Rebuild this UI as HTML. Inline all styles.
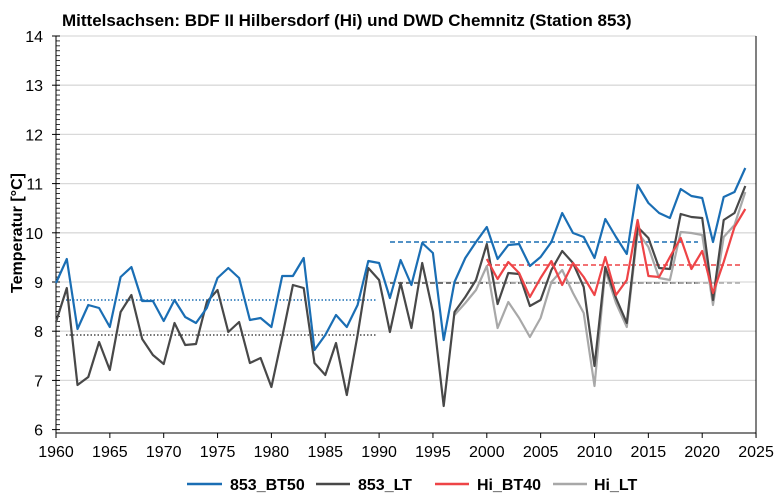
<!DOCTYPE html>
<html><head><meta charset="utf-8"><style>
body{margin:0;background:#fff;}
svg{display:block;font-family:"Liberation Sans",Arial,sans-serif;}
</style></head><body>
<svg id="s" width="780" height="504" viewBox="0 0 780 504" xmlns="http://www.w3.org/2000/svg">
<rect width="780" height="504" fill="#fff"/>
<text x="62" y="26" font-size="17" font-weight="bold" fill="#000">Mittelsachsen: BDF II Hilbersdorf (Hi) und DWD Chemnitz (Station 853)</text>
<text transform="translate(22,233) rotate(-90)" font-size="16" font-weight="bold" text-anchor="middle">Temperatur [°C]</text>
<g id="g"></g>
<g font-size="16" font-weight="bold">
<line x1="187" y1="484" x2="222" y2="484" stroke="#1a6eb4" stroke-width="2.5"/><text x="230" y="490">853_BT50</text>
<line x1="316" y1="484" x2="350" y2="484" stroke="#484848" stroke-width="2.5"/><text x="358" y="490">853_LT</text>
<line x1="435" y1="484" x2="469" y2="484" stroke="#ee4447" stroke-width="2.5"/><text x="477" y="490">Hi_BT40</text>
<line x1="553" y1="484" x2="587" y2="484" stroke="#a8a8a8" stroke-width="2.5"/><text x="594" y="490">Hi_LT</text>
</g>
</svg>
<script>
var g=document.getElementById('g'),h='';
function X(yr){return 56+(yr-1960)*10.77;}
function Y(v){return 282-(v-9)*49.2;}
for(var v=6;v<=14;v++){var y=Y(v);
 if(v>6)h+='<line x1="56" x2="756" y1="'+y+'" y2="'+y+'" stroke="#d9d9d9" stroke-width="1.3"/>';
 h+='<text x="43" y="'+(y+6)+'" font-size="16" text-anchor="end">'+v+'</text>';
 for(var k=1;k<10&&v<14;k++){var yy=y-k*4.92;h+='<line x1="56" x2="60" y1="'+yy+'" y2="'+yy+'" stroke="#000" stroke-width="0.8"/>';}
 h+='<line x1="52" x2="60" y1="'+y+'" y2="'+y+'" stroke="#000"/>';}
h+='<line x1="56" y1="36" x2="56" y2="433" stroke="#000"/><line x1="56" y1="433" x2="756" y2="433" stroke="#000"/><line x1="756" y1="36" x2="756" y2="437" stroke="#000"/>';
for(var yr=1960;yr<=2025;yr+=5){var x=X(yr);h+='<line x1="'+x+'" x2="'+x+'" y1="433" y2="438" stroke="#000"/><text x="'+x+'" y="457" font-size="16" text-anchor="middle">'+yr+'</text>';}
function dl(x1,x2,y,c,d){h+='<line x1="'+x1+'" x2="'+x2+'" y1="'+y+'" y2="'+y+'" stroke="'+c+'" stroke-width="1.6" stroke-dasharray="'+d+'"/>';}
dl(66,377,300,'#1a6eb4','1.5 2');dl(66,377,335,'#484848','1.5 2');
dl(390,698,242,'#1a6eb4','5 3');dl(390,698,283,'#484848','5 3');
dl(487,742,265,'#ee4447','5 3');dl(487,742,283,'#a8a8a8','5 3');
function ser(start,ys,c){var p=ys.map(function(y,i){return X(start+i).toFixed(1)+','+y;}).join(' ');
 h+='<polyline points="'+p+'" fill="none" stroke="'+c+'" stroke-width="2.2" stroke-linejoin="round"/>';}
var lt=[322,288,385,377,342,370,312,295,339,355,364,323,345,344,302,290,332,322,363,358,387,337,285,288,363,375,343,395,335,268,280,332,283,328,263,312,406,312,297,280,244,304,273,274,306,300,270,251,263,287,366,267,298,323,227,238,268,269,214,217,218,300,220,213,186];
var bt=[283,259,329,305,308,327,277,267,301,301,321,300,317,323,308,278,268,278,320,318,327,276,276,258,350,335,315,327,305,261,263,298,260,285,243,253,340,282,258,242,227,259,245,244,266,257,242,213,233,237,258,219,237,254,185,203,213,218,189,196,198,242,197,192,168];
var hlt=[315,303,290,266,328,302,318,337,318,282,270,293,313,386,270,303,327,232,247,278,280,232,233,235,305,237,225,192];
var hbt=[259,279,262,273,297,278,261,285,263,277,295,257,295,280,220,276,277,257,238,269,251,293,262,227,209];
ser(1997,hlt,'#a8a8a8');ser(1960,lt,'#484848');ser(2000,hbt,'#ee4447');ser(1960,bt,'#1a6eb4');
g.innerHTML=h;
</script>
</body></html>
